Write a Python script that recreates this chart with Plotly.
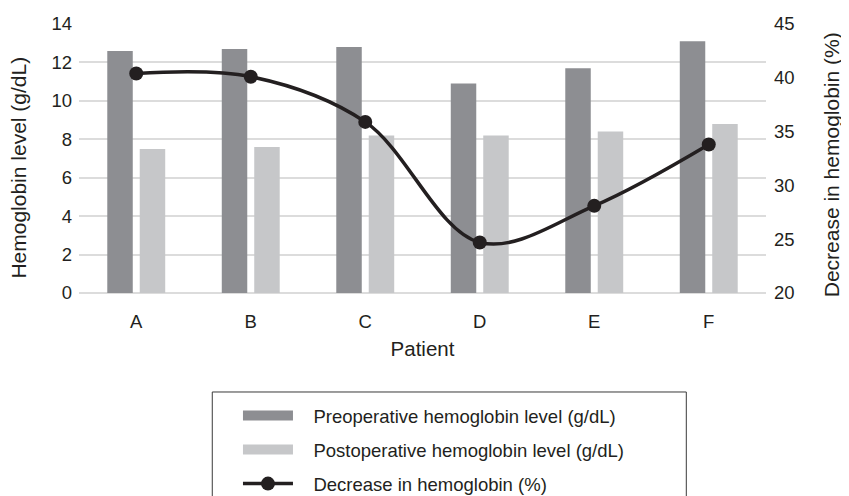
import plotly.graph_objects as go

patients = ["A", "B", "C", "D", "E", "F"]
preop = [12.6, 12.7, 12.8, 10.9, 11.7, 13.1]
postop = [7.5, 7.6, 8.2, 8.2, 8.4, 8.8]
decrease = [40.4, 40.1, 35.9, 24.7, 28.1, 33.8]

FONT = "Liberation Sans, Arial, sans-serif"
TXT = "#231f20"
DARK = "#8d8e92"
LIGHT = "#c6c7c9"
PAD = "\u00a0\u00a0\u00a0"

fig = go.Figure()
fig.add_trace(go.Bar(x=patients, y=preop, name="Preoperative hemoglobin level (g/dL)",
                     marker=dict(color=DARK, line=dict(width=0)), showlegend=False))
fig.add_trace(go.Bar(x=patients, y=postop, name="Postoperative hemoglobin level (g/dL)",
                     marker=dict(color=LIGHT, line=dict(width=0)), showlegend=False))
# legend-only proxies so the bar swatches look like wide rectangles
fig.add_trace(go.Scatter(x=[None], y=[None], mode="lines", name=PAD + "Preoperative hemoglobin level (g/dL)",
                         line=dict(color=DARK, width=12), legendgroup="a"))
fig.add_trace(go.Scatter(x=[None], y=[None], mode="lines", name=PAD + "Postoperative hemoglobin level (g/dL)",
                         line=dict(color=LIGHT, width=12), legendgroup="b"))
fig.add_trace(go.Scatter(x=patients, y=decrease, name=PAD + "Decrease in hemoglobin (%)", yaxis="y2",
                         mode="lines+markers", line=dict(color=TXT, width=3.5, shape="spline", smoothing=1),
                         marker=dict(color=TXT, size=14), legendgroup="c"))

fig.update_layout(
    width=841, height=488,
    margin=dict(l=70.5, r=82.5, t=16, b=203, autoexpand=False),
    paper_bgcolor="white", plot_bgcolor="white",
    font=dict(family=FONT, size=18, color=TXT),
    barmode="group", bargap=0.433, bargroupgap=0.215,
    showlegend=True,
    legend=dict(x=0.2314, y=0.2029, xref="paper", yref="container", xanchor="left", yanchor="top",
                bgcolor="rgba(0,0,0,0)", borderwidth=0, tracegroupgap=7,
                itemwidth=50, font=dict(size=18.5, color=TXT)),
    xaxis=dict(showgrid=False, showline=False, ticks="", tickfont=dict(size=18.5), automargin=False,
               ticklabelstandoff=15,
               title=dict(text="Patient", font=dict(size=20.5), standoff=11)),
    yaxis=dict(range=[0, 14], dtick=2, showgrid=True, gridcolor="#dcdcdc", gridwidth=1.5,
               zeroline=True, zerolinecolor="#dcdcdc", zerolinewidth=1.5, showline=False, automargin=False,
               ticklabelstandoff=6, tickfont=dict(size=18.5)),
    yaxis2=dict(range=[20, 45], dtick=5, overlaying="y", side="right", showgrid=False, automargin=False,
                zeroline=False, showline=False, tickfont=dict(size=18.5), ticklabelstandoff=7),
    annotations=[
        dict(text="Hemoglobin level (g/dL)", xref="paper", yref="paper", x=-0.0879, y=0.4647,
             xanchor="center", yanchor="middle", textangle=-90, showarrow=False, font=dict(size=21)),
        dict(text="Decrease in hemoglobin (%)", xref="paper", yref="paper", x=1.095, y=0.4758,
             xanchor="center", yanchor="middle", textangle=-90, showarrow=False, font=dict(size=21)),
    ],
    shapes=[dict(type="rect", xref="paper", yref="paper", x0=0.194, x1=0.884, y0=-0.78, y1=-0.368,
                 line=dict(color="#3a3a3a", width=1), fillcolor="rgba(0,0,0,0)")],
)

fig.write_html("out.html")
